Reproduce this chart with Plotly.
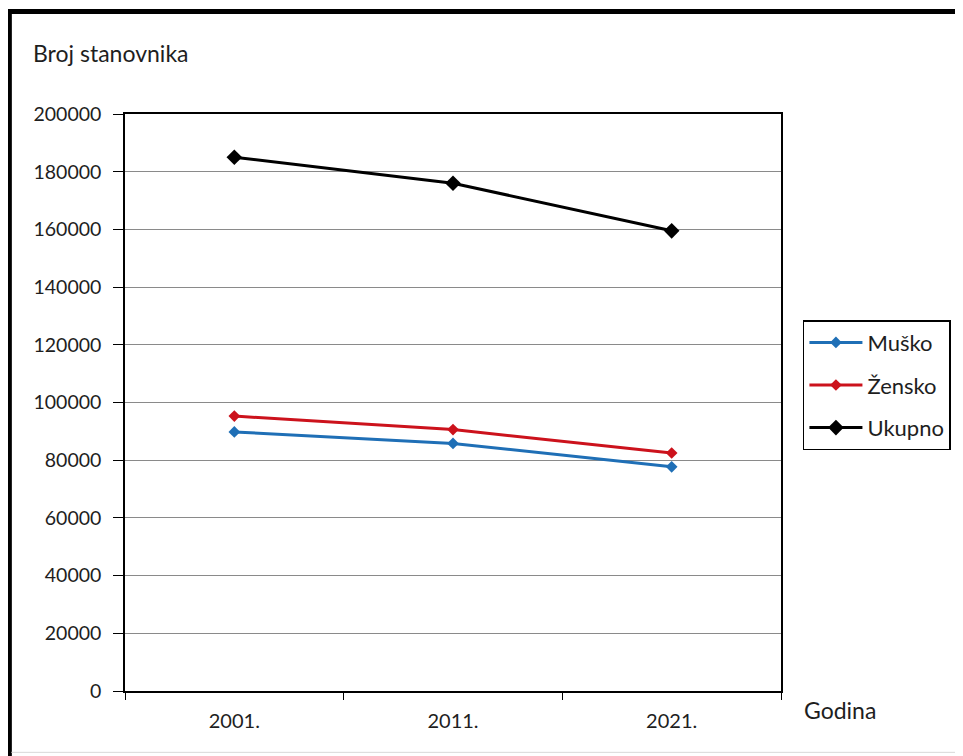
import plotly.graph_objects as go

years = ["2001.", "2011.", "2021."]
musko = [89800, 85800, 77700]
zensko = [95300, 90600, 82500]
ukupno = [185000, 176000, 159500]
y_ticks = [0, 20000, 40000, 60000, 80000, 100000, 120000, 140000, 160000, 180000, 200000]

# page body adds an 8px offset; work in reference pixels and shift
OFF = 8
W, H = 963 - OFF, 756 - OFF
PX0, PX1, PY0, PY1 = 125 - OFF, 783 - OFF, 114 - OFF, 690.7 - OFF
L, R, T, B = PX0, W - PX1, PY0, H - PY1
pw, ph = PX1 - PX0, PY1 - PY0


def px(x):
    return (x - OFF - PX0) / pw


def py(y):
    return (PY1 - (y - OFF)) / ph


FONT = "Lato"
TXT = "#1e1e1e"

fig = go.Figure()
series = [("Muško", musko, "#1f6fb6", 9), ("Žensko", zensko, "#cc121c", 9), ("Ukupno", ukupno, "#000000", 12)]
for i, (name, vals, col, ms) in enumerate(series):
    fig.add_trace(go.Scatter(
        x=years, y=vals, name=name, mode="lines+markers",
        line=dict(color=col, width=3),
        marker=dict(symbol="diamond", size=ms, color=col),
        legendgroup=f"g{i}",
    ))

fig.update_layout(
    width=W, height=H,
    margin=dict(l=L, r=R, t=T, b=B),
    paper_bgcolor="white", plot_bgcolor="white",
    font=dict(family=FONT, size=19, color=TXT),
    showlegend=True,
    legend=dict(
        x=px(805), y=py(320), xanchor="left", yanchor="top",
        bordercolor="black", borderwidth=1.5, bgcolor="white",
        font=dict(family=FONT, size=22, color=TXT),
        traceorder="grouped", tracegroupgap=11,
        itemwidth=53,
    ),
    xaxis=dict(
        type="category", showgrid=False, showline=True, linecolor="black", linewidth=1.5,
        mirror=True, ticks="outside", tickson="boundaries", ticklen=7, tickcolor="black",
        tickfont=dict(family=FONT, size=20, color=TXT),
        range=[-0.5, 2.5], ticklabelstandoff=11,
    ),
    yaxis=dict(
        range=[0, 200000], tickvals=y_ticks, tickformat="d",
        showgrid=True, gridcolor="#8a8a8a", gridwidth=1,
        showline=True, linecolor="black", linewidth=1.5, mirror=True,
        ticks="outside", ticklen=10, tickcolor="black",
        tickfont=dict(family=FONT, size=19.5, color=TXT),
        zeroline=False, ticklabelstandoff=8,
    ),
)

fig.add_annotation(text="Broj stanovnika", xref="paper", yref="paper",
                   x=px(31), y=py(53), xanchor="left", yanchor="middle",
                   showarrow=False, font=dict(family=FONT, size=23, color=TXT))
fig.add_annotation(text="Godina", xref="paper", yref="paper",
                   x=px(804), y=py(710), xanchor="left", yanchor="middle",
                   showarrow=False, font=dict(family=FONT, size=23, color=TXT))

# frame around the picture: thick black on top/left, thin grey on right/bottom
fig.add_shape(type="line", xref="paper", yref="paper",
              x0=px(7), x1=px(963), y0=py(11.5), y1=py(11.5),
              line=dict(color="black", width=5), layer="above")
fig.add_shape(type="line", xref="paper", yref="paper",
              x0=px(9), x1=px(9), y0=py(9), y1=py(756),
              line=dict(color="black", width=5), layer="above")
fig.add_shape(type="line", xref="paper", yref="paper",
              x0=px(960), x1=px(960), y0=py(14), y1=py(752),
              line=dict(color="#d8d8d8", width=1), layer="above")
fig.add_shape(type="line", xref="paper", yref="paper",
              x0=px(11), x1=px(960), y0=py(752), y1=py(752),
              line=dict(color="#d8d8d8", width=1), layer="above")

fig.write_html("out.html")
